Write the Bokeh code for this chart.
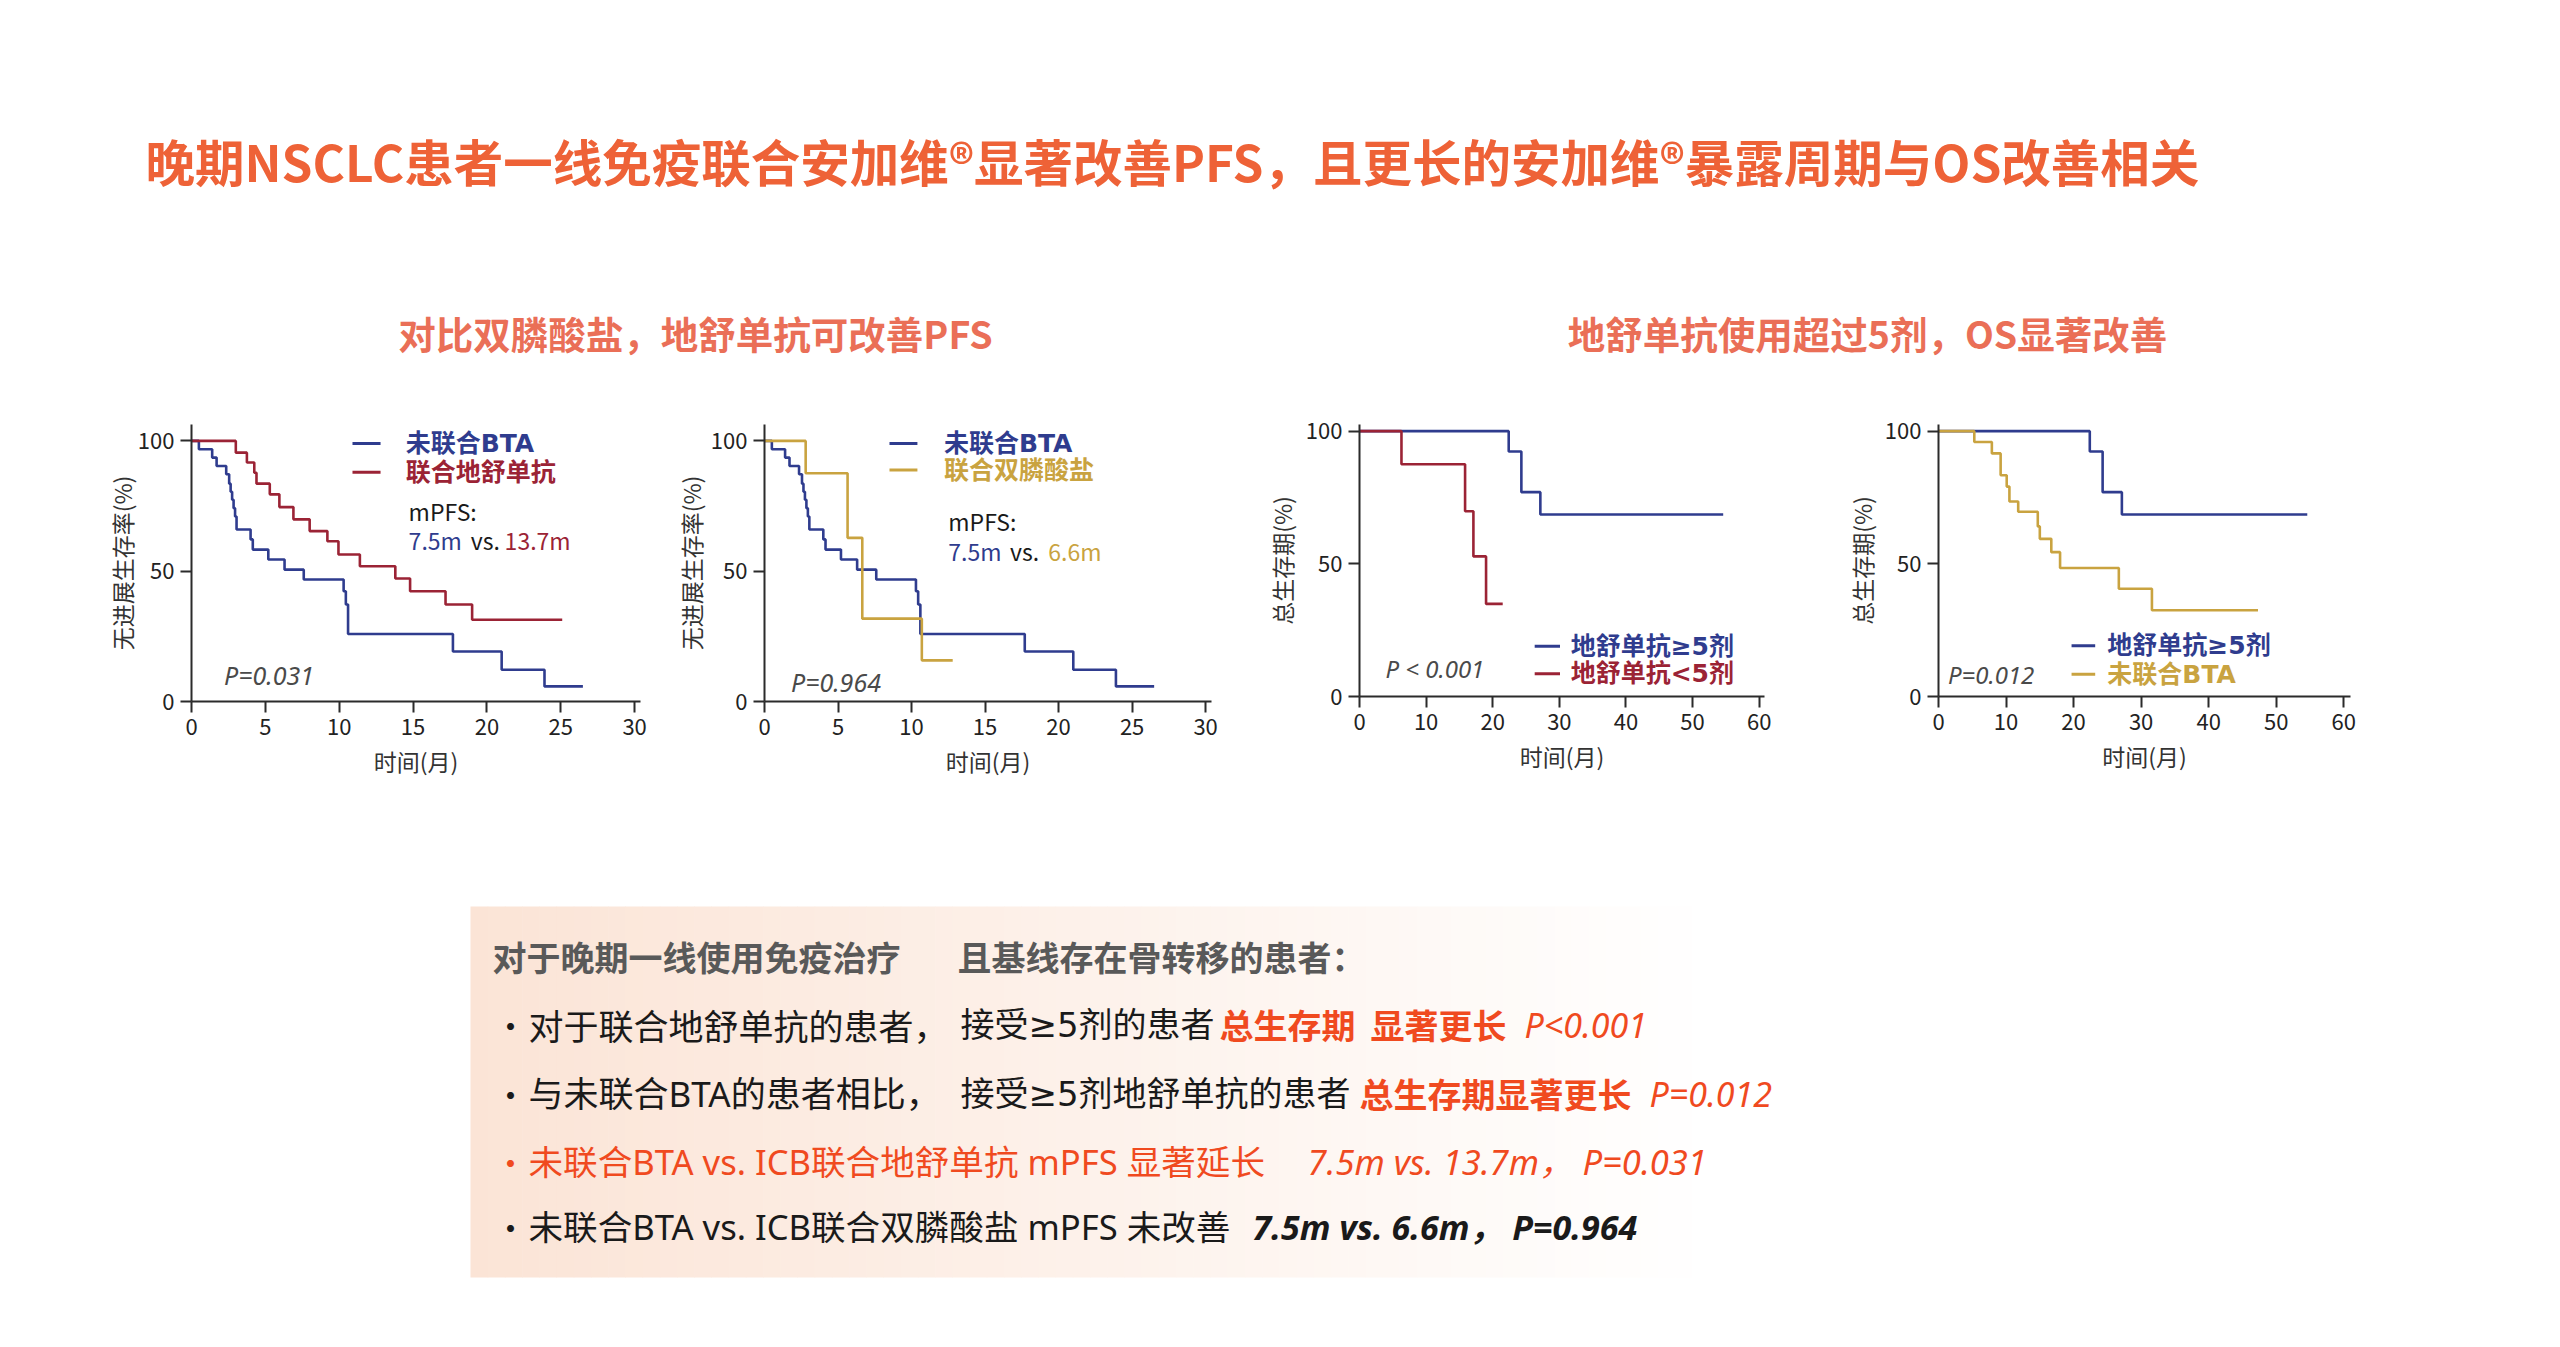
import numpy as np
from bokeh.plotting import figure
from bokeh.layouts import row, column
from bokeh.models import Range1d, FixedTicker
from bokeh.embed import file_html
from bokeh.resources import INLINE
from bokeh.core.properties import value

FONT = "Noto Sans CJK SC"
LATIN = "Noto Sans"
MIXED = "Noto Sans, Noto Sans CJK SC"
SYM = "DejaVu Sans, Noto Sans CJK SC"

# ---------------- data ----------------
main_title = "晚期NSCLC患者一线免疫联合安加维®显著改善PFS，且更长的安加维®暴露周期与OS改善相关"
subtitle_left = "对比双膦酸盐，地舒单抗可改善PFS"
subtitle_right = "地舒单抗使用超过5剂，OS显著改善"

pfs_x_ticks = [0, 5, 10, 15, 20, 25, 30]
os_x_ticks = [0, 10, 20, 30, 40, 50, 60]
y_ticks = [0, 50, 100]

x_label = "时间(月)"
pfs_y_label = "无进展生存率(%)"
os_y_label = "总生存期(%)"

# PFS, no BTA (未联合BTA)
pfs_nobta_t = [0, 0.5, 1.4, 1.7, 2.35, 2.55, 2.65, 2.75, 2.85, 2.95, 3.05, 4.0, 4.15,
               5.2, 6.3, 7.6, 10.3, 10.45, 10.6, 17.7, 21.0, 23.9, 26.5]
pfs_nobta_s = [100, 96.8, 93.6, 90.4, 87.2, 83.6, 80.5, 77.4, 74.2, 71.0, 66.0, 62.2, 58.3,
               54.5, 50.6, 46.8, 42.3, 37.2, 25.9, 19.2, 12.2, 5.8, 5.8]
# PFS, + denosumab (联合地舒单抗)
pfs_deno_t = [0, 3.0, 3.75, 4.25, 4.4, 5.3, 5.95, 6.9, 8.0, 9.2, 9.95, 11.4, 13.8, 14.8, 17.2, 19.0, 25.1]
pfs_deno_s = [100, 95.5, 91.7, 87.8, 83.6, 79.5, 74.6, 69.9, 65.4, 61.5, 56.4, 51.9, 47.2, 42.3, 37.2, 31.4, 31.4]
# PFS, + bisphosphonate (联合双膦酸盐)
pfs_bisp_t = [0, 2.8, 5.65, 6.65, 10.7, 12.8]
pfs_bisp_s = [100, 87.6, 62.8, 31.8, 15.8, 15.8]
# OS, denosumab >=5 doses
os_ge5_t = [0, 22.4, 24.3, 27.15, 54.6]
os_ge5_s = [100, 92.3, 77.0, 68.6, 68.6]
# OS, denosumab <5 doses
os_lt5_t = [0, 6.3, 15.85, 17.1, 19.0, 21.5]
os_lt5_s = [100, 87.5, 69.8, 52.8, 34.9, 34.9]
# OS, no BTA
os_nobta_t = [0, 5.3, 7.9, 9.2, 10.1, 10.5, 11.8, 14.7, 15.0, 16.7, 18.0, 26.7, 31.6, 47.3]
os_nobta_s = [100, 95.9, 91.6, 83.4, 79.1, 73.5, 69.6, 64.1, 59.4, 54.4, 48.4, 40.6, 32.5, 32.5]

BLUE = "#2F3C8E"
RED = "#9B2335"
GOLD = "#C9A340"
TITLE_C = "#EE6237"
SUB_C = "#EA6F57"
EMPH = "#F04A1F"
INK = "#1A1A1A"
GRAY = "#595959"


def blank_fig(w, h):
    p = figure(width=w, height=h, x_range=Range1d(0, w), y_range=Range1d(h, 0),
               toolbar_location=None, output_backend="svg",
               x_axis_location=None, y_axis_location=None, min_border=0)
    p.grid.visible = False
    p.outline_line_color = None
    return p


def km_fig(lb, fw, rb, tb, fh, bb, xmax, ymax, xticks, ylabel, ylabel_standoff):
    p = figure(frame_width=fw, frame_height=fh, min_border_left=lb, min_border_right=rb,
               min_border_top=tb, min_border_bottom=bb,
               x_range=Range1d(0, xmax), y_range=Range1d(0, ymax),
               toolbar_location=None, output_backend="svg")
    p.grid.visible = False
    p.outline_line_color = None
    p.xaxis.ticker = FixedTicker(ticks=xticks)
    p.yaxis.ticker = FixedTicker(ticks=y_ticks)
    p.axis.axis_line_width = 2
    p.axis.axis_line_color = "#2b2b2b"
    p.axis.major_tick_line_width = 2
    p.axis.major_tick_line_color = "#2b2b2b"
    p.axis.major_tick_out = 11
    p.axis.major_tick_in = 0
    p.axis.minor_tick_line_color = None
    p.axis.major_label_text_font = FONT
    p.axis.major_label_text_font_size = "22px"
    p.axis.major_label_text_color = "#222222"
    p.axis.major_label_standoff = 6
    p.axis.axis_label_text_font = FONT
    p.axis.axis_label_text_font_size = "23px"
    p.axis.axis_label_text_font_style = "normal"
    p.axis.axis_label_text_color = "#333333"
    p.xaxis.axis_label = x_label
    p.xaxis.axis_label_standoff = 6
    p.yaxis.axis_label = ylabel
    p.yaxis.axis_label_standoff = ylabel_standoff
    return p


def curve(p, t, s, color):
    p.step(x=t, y=s, mode="after", line_color=color, line_width=2.6)


def legend(p, x0, x1, xt, ys, labels, colors):
    p.segment(x0=[x0] * len(ys), x1=[x1] * len(ys), y0=ys, y1=ys, line_color=colors, line_width=3)
    p.text(x=[xt] * len(ys), y=ys, text=labels, text_color=colors, text_font=value(SYM),
           text_font_size="25px", text_font_style="bold", text_baseline="middle", text_align="left")


def txt(p, x, y, s, color, size, style="normal", font=FONT, align="left"):
    p.text(x=[x], y=[y], text=[s], text_color=color, text_font=value(font),
           text_font_size=size, text_font_style=style, text_baseline="middle", text_align=align)


# ---------------- title area ----------------
top = blank_fig(2540, 380)
txt(top, 145, 160, main_title, TITLE_C, "49.5px", "bold")
txt(top, 695, 332, subtitle_left, SUB_C, "37.5px", "bold", align="center")
txt(top, 1867, 332, subtitle_right, SUB_C, "37.5px", "bold", align="center")

# ---------------- chart 1 ----------------
c1 = km_fig(191, 449, 14, 44, 277, 99, 30.4, 106.3, pfs_x_ticks, pfs_y_label, -4)
curve(c1, pfs_nobta_t, pfs_nobta_s, BLUE)
curve(c1, pfs_deno_t, pfs_deno_s, RED)
legend(c1, 10.9, 12.8, 14.5, [99, 88], ["未联合BTA", "联合地舒单抗"], [BLUE, RED])
txt(c1, 14.7, 73.2, "mPFS:", INK, "23px")
txt(c1, 14.7, 62.0, "7.5m", BLUE, "23px")
txt(c1, 18.9, 62.0, "vs.", INK, "23px")
txt(c1, 21.2, 62.0, "13.7m", RED, "23px")
txt(c1, 2.2, 10.2, "P=0.031", "#4a4a4a", "25px", "italic", LATIN)

# ---------------- chart 2 ----------------
c2 = km_fig(110, 447, 24, 44, 277, 99, 30.4, 106.3, pfs_x_ticks, pfs_y_label, 0)
curve(c2, pfs_nobta_t, pfs_nobta_s, BLUE)
curve(c2, pfs_bisp_t, pfs_bisp_s, GOLD)
legend(c2, 8.5, 10.4, 12.2, [99, 88.8], ["未联合BTA", "联合双膦酸盐"], [BLUE, GOLD])
txt(c2, 12.5, 69.2, "mPFS:", INK, "23px")
txt(c2, 12.5, 57.8, "7.5m", BLUE, "23px")
txt(c2, 16.7, 57.8, "vs.", INK, "23px")
txt(c2, 19.3, 57.8, "6.6m", GOLD, "23px")
txt(c2, 1.8, 7.4, "P=0.964", "#4a4a4a", "25px", "italic", LATIN)

# ---------------- chart 3 ----------------
c3 = km_fig(124, 405, 54, 44, 272, 104, 60.8, 102.5, os_x_ticks, os_y_label, 4)
curve(c3, os_ge5_t, os_ge5_s, BLUE)
curve(c3, os_lt5_t, os_lt5_s, RED)
legend(c3, 26.3, 30.1, 31.7, [18.9, 8.6], ["地舒单抗≥5剂", "地舒单抗<5剂"], [BLUE, RED])
txt(c3, 3.9, 10.4, "P < 0.001", "#4a4a4a", "24px", "italic", LATIN)

# ---------------- chart 4 ----------------
c4 = km_fig(120, 412, 172, 44, 272, 104, 61, 102.5, os_x_ticks, os_y_label, 3)
curve(c4, os_ge5_t, os_ge5_s, BLUE)
curve(c4, os_nobta_t, os_nobta_s, GOLD)
legend(c4, 19.7, 23.2, 25.0, [19.1, 8.4], ["地舒单抗≥5剂", "未联合BTA"], [BLUE, GOLD])
txt(c4, 1.4, 8.4, "P=0.012", "#4a4a4a", "24px", "italic", LATIN)

# ---------------- bottom summary box ----------------
bot = blank_fig(2540, 539)
n_strips = 120
edges = np.linspace(470, 2535, n_strips + 1)
cols = []
for i in range(n_strips):
    f = min(1.0, (i + 0.5) / n_strips / 0.6)
    r = int(round(251 + (255 - 251) * f))
    g = int(round(228 + (255 - 228) * f))
    b = int(round(214 + (255 - 214) * f))
    cols.append("#%02x%02x%02x" % (r, g, b))
bot.quad(left=edges[:-1], right=edges[1:] + 0.6, top=[106] * n_strips, bottom=[477] * n_strips,
         fill_color=cols, line_color=None)

FS = "35px"
FS2 = "34.6px"
rows_y = [156, 224, 293, 361, 426]
txt(bot, 492, rows_y[0], "对于晚期一线使用免疫治疗", GRAY, "34px", "bold")
txt(bot, 957, rows_y[0], "且基线存在骨转移的患者：", GRAY, "34px", "bold")

for yy, c in zip(rows_y[1:], [INK, INK, EMPH, INK]):
    txt(bot, 510, yy, "•", c, "33px", align="center")

txt(bot, 528, rows_y[1], "对于联合地舒单抗的患者，", INK, FS)
txt(bot, 960, rows_y[1], "接受≥5剂的患者", INK, "34px", font=SYM)
txt(bot, 1219, rows_y[1], "总生存期", EMPH, "34px", "bold")
txt(bot, 1370, rows_y[1], "显著更长", EMPH, "34px", "bold")
txt(bot, 1524, rows_y[1], "P<0.001", EMPH, "34px", "italic", LATIN)

txt(bot, 528, rows_y[2], "与未联合BTA的患者相比，", INK, FS, font=MIXED)
txt(bot, 960, rows_y[2], "接受≥5剂地舒单抗的患者", INK, "34px", font=SYM)
txt(bot, 1359, rows_y[2], "总生存期显著更长", EMPH, "34px", "bold")
txt(bot, 1649, rows_y[2], "P=0.012", EMPH, "34px", "italic", LATIN)

txt(bot, 528, rows_y[3], "未联合BTA vs. ICB联合地舒单抗 mPFS 显著延长", EMPH, FS2, font=MIXED)
txt(bot, 1307, rows_y[3], "7.5m vs. 13.7m，  P=0.031", EMPH, FS2, "italic", MIXED)

txt(bot, 528, rows_y[4], "未联合BTA vs. ICB联合双膦酸盐 mPFS 未改善", INK, FS2, font=MIXED)
txt(bot, 1252, rows_y[4], "7.5m vs. 6.6m，  P=0.964", INK, "34px", "bold italic", MIXED)

layout = column(top, row(c1, c2, c3, c4), bot)
open("out.html", "w").write(file_html(layout, INLINE))
